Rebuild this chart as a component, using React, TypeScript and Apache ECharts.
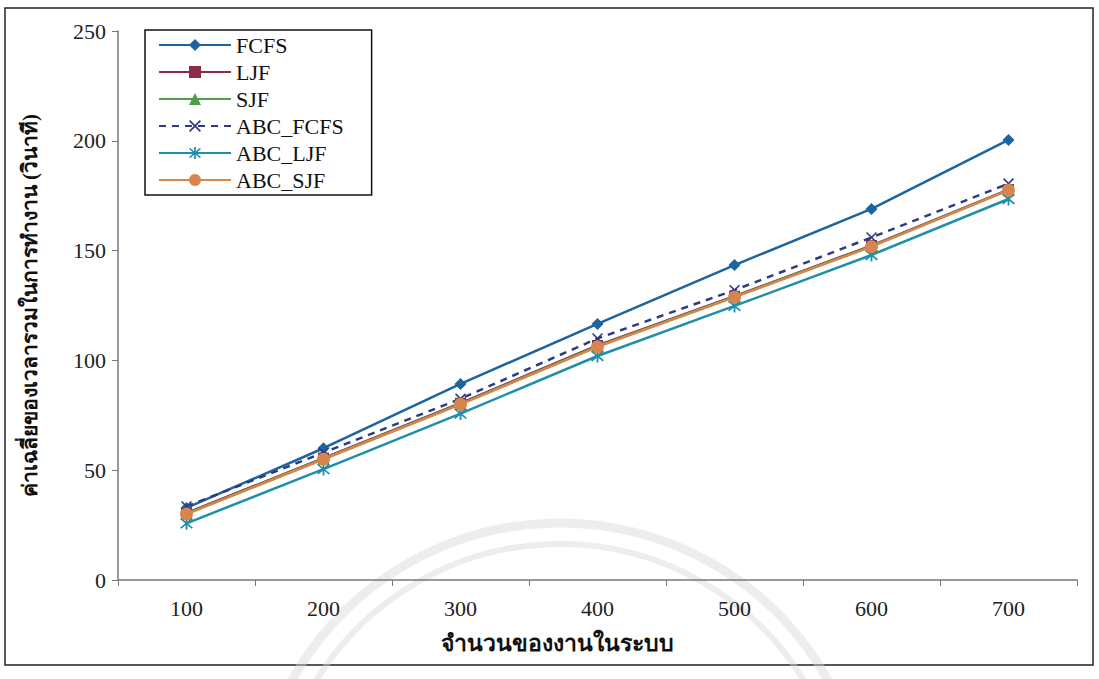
import React, { useEffect, useRef } from "react";
import * as echarts from "echarts";

const categories = ["100", "200", "300", "400", "500", "600", "700"];
const fcfs = [32.8, 60, 89.3, 116.6, 143.4, 169, 200.4];
const ljf = [30.5, 55.5, 80.5, 106.8, 129.2, 152.3, 177.8];
const sjf = [30.2, 55.2, 80.2, 106.5, 129, 152, 177.5];
const abcFcfs = [33.5, 58, 82.5, 110, 132, 156, 180.5];
const abcLjf = [25.8, 50.5, 75.8, 102, 124.8, 148, 173.5];
const abcSjf = [30, 55, 80, 106.2, 128.8, 151.8, 177.5];

const yMin = 0;
const yMax = 250;
const yStep = 50;

const FONT = "'Liberation Serif', 'Times New Roman', serif";

const xPath =
  "path://M-5,-4 L-4,-5 L5,4 L4,5 Z M4,-5 L5,-4 L-4,5 L-5,4 Z";
const starPath =
  "path://M-5,-4 L-4,-5 L5,4 L4,5 Z M4,-5 L5,-4 L-4,5 L-5,4 Z M-0.7,-6 L0.7,-6 L0.7,6 L-0.7,6 Z";

export default function App() {
  const ref = useRef<HTMLDivElement>(null);
  useEffect(() => {
    document.body.style.margin = "0";
    const chart = echarts.init(ref.current!, null, { renderer: "svg" });
    const mk = (
      name: string,
      data: number[],
      color: string,
      symbol: string,
      size: number,
      dashed = false
    ) => ({
      name,
      type: "line",
      data,
      symbol,
      symbolSize: size,
      showAllSymbol: true,
      lineStyle: { color, width: 2.5, type: dashed ? [7, 6] : "solid" },
      itemStyle: { color, borderColor: color, borderWidth: 0 },
      emphasis: { disabled: true },
    });
    chart.setOption({
      animation: false,
      backgroundColor: "#ffffff",
      graphic: [
        {
          type: "rect",
          z: 0,
          silent: true,
          shape: { x: 5, y: 8, width: 1088, height: 657 },
          style: { fill: "none", stroke: "#222", lineWidth: 1.5 },
        },
        {
          type: "arc",
          z: 0,
          silent: true,
          shape: { cx: 560, cy: 830, r: 307, startAngle: 0, endAngle: Math.PI * 2 },
          style: { fill: "none", stroke: "#d8d8d8", lineWidth: 9, opacity: 0.45 },
        },
        {
          type: "arc",
          z: 0,
          silent: true,
          shape: { cx: 560, cy: 830, r: 286, startAngle: 0, endAngle: Math.PI * 2 },
          style: { fill: "none", stroke: "#d8d8d8", lineWidth: 6, opacity: 0.45 },
        },
      ],
      legend: {
        orient: "vertical",
        left: 145,
        top: 30,
        itemWidth: 72,
        itemHeight: 15,
        itemGap: 5,
        padding: [4, 28, 4, 13],
        backgroundColor: "#fff",
        borderColor: "#111",
        borderWidth: 1.5,
        textStyle: { fontFamily: FONT, fontSize: 22, color: "#111" },
        data: ["FCFS", "LJF", "SJF", "ABC_FCFS", "ABC_LJF", "ABC_SJF"],
      },
      grid: { left: 118, right: 22, top: 31, bottom: 99 },
      xAxis: {
        type: "category",
        data: categories,
        boundaryGap: true,
        name: "จำนวนของงานในระบบ",
        nameLocation: "middle",
        nameGap: 52,
        nameTextStyle: {
          fontFamily: FONT,
          fontSize: 23,
          color: "#111",
          fontWeight: "bold",
          padding: [0, 80, 0, 0],
        },
        axisLine: { lineStyle: { color: "#777", width: 1.5 } },
        axisTick: { show: true, alignWithLabel: false, length: 6, lineStyle: { color: "#777" } },
        axisLabel: { fontFamily: FONT, fontSize: 22, color: "#222", margin: 17 },
        splitLine: { show: false },
      },
      yAxis: {
        type: "value",
        min: yMin,
        max: yMax,
        interval: yStep,
        name: "ค่าเฉลี่ยของเวลารวมในการทำงาน (วินาที)",
        nameLocation: "middle",
        nameRotate: 90,
        nameGap: 78,
        nameTextStyle: { fontFamily: FONT, fontSize: 21, color: "#111", fontWeight: "bold" },
        axisLine: { show: true, lineStyle: { color: "#777", width: 1.5 } },
        axisTick: { show: true, length: 6, lineStyle: { color: "#777" } },
        axisLabel: { fontFamily: FONT, fontSize: 22, color: "#222", margin: 12 },
        splitLine: { show: false },
      },
      series: [
        mk("FCFS", fcfs, "#1c64a0", "diamond", 12),
        mk("LJF", ljf, "#8e2b48", "rect", 11),
        mk("SJF", sjf, "#4f9e48", "triangle", 12),
        mk("ABC_FCFS", abcFcfs, "#2e3a82", xPath, 11, true),
        mk("ABC_LJF", abcLjf, "#1f8ea8", starPath, 13),
        mk("ABC_SJF", abcSjf, "#d6864c", "circle", 13),
      ],
    });
    return () => chart.dispose();
  }, []);
  return <div ref={ref} style={{ width: 1099, height: 679 }} />;
}
